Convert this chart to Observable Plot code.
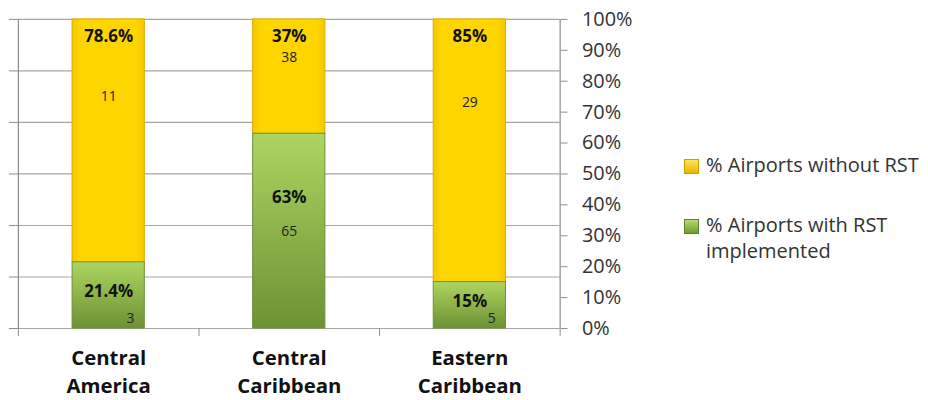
<!DOCTYPE html>
<html>
<head>
<meta charset="utf-8">
<script src="https://cdn.jsdelivr.net/npm/d3@7"></script>
<script src="https://cdn.jsdelivr.net/npm/@observablehq/plot@0.6"></script>
<style>
  html, body { margin: 0; padding: 0; background: #fff; overflow: hidden; }
  #wrap { display: flex; width: 928px; height: 400px; font-family: "Open Sans", sans-serif; }
  #chart svg { display: block; }
  #legend { padding-top: 152px; margin-left: 18px; color: #333; font-size: 20px; }
  .item { display: flex; align-items: flex-start; line-height: 26px; margin-bottom: 34px; }
  .sw { width: 13px; height: 13px; margin-top: 7px; margin-right: 7px; flex: none; }
</style>
</head>
<body>
<div id="wrap"><div id="chart"></div><div id="legend"></div></div>
<script>
const categories = ["Central\nAmerica", "Central\nCaribbean", "Eastern\nCaribbean"];
const seriesNames = ["% Airports without RST", "% Airports with RST implemented"];
const withRST = [21.4, 63, 15];
const withoutRST = [78.6, 37, 85];
const withCount = [3, 65, 5];
const withoutCount = [11, 38, 29];
const yTicks = [0, 10, 20, 30, 40, 50, 60, 70, 80, 90, 100];
const gridTicks = d3.range(0, 7).map(k => k * 100 / 6);

const green = categories.map((c, i) => ({i, value: withRST[i], count: withCount[i], y1: 0, y2: withRST[i]}));
const yellow = categories.map((c, i) => ({i, value: withoutRST[i], count: withoutCount[i], y1: withRST[i], y2: 100}));
const mid = d => (d.y1 + d.y2) / 2;
const cx = d => d.i + 0.5;
const pct = d => d.value + "%";
const axisColor = "#8c8c8c";

const chart = Plot.plot({
  width: 670, height: 400,
  marginLeft: 18, marginRight: 107, marginTop: 19, marginBottom: 70,
  x: {domain: [0, 3], axis: null},
  y: {domain: [0, 100], axis: null},
  style: {fontFamily: "'Open Sans', sans-serif", background: "#fff", color: "#222"},
  marks: [
    Plot.ruleY(gridTicks, {stroke: "#a6a6a6", strokeWidth: 1.2}),
    Plot.axisY({anchor: "left", ticks: gridTicks, tickSize: 9, tickFormat: () => "", stroke: axisColor}),
    Plot.axisY({anchor: "right", ticks: yTicks, tickSize: 7, tickPadding: 15, tickFormat: d => d + "%", stroke: axisColor, fontSize: 20, fill: "#333"}),
    Plot.ruleX([0, 3], {stroke: axisColor, strokeWidth: 1.2}),
    Plot.axisX({ticks: [0, 1, 2, 3], tickSize: 8, tickFormat: () => "", stroke: axisColor}),
    Plot.rectY(yellow, {x1: d => d.i + 0.3, x2: d => d.i + 0.7, y1: "y1", y2: "y2", fill: "url(#gYellow)", stroke: "#d9ad00", strokeWidth: 1}),
    Plot.rectY(green, {x1: d => d.i + 0.3, x2: d => d.i + 0.7, y1: "y1", y2: "y2", fill: "url(#gGreen)", stroke: "#6f8f3c", strokeWidth: 1}),
    // yellow labels
    Plot.text(yellow, {x: cx, y: "y2", dy: 17, text: pct, fontWeight: "bold", fontSize: 17, fill: "#111"}),
    Plot.text(yellow, {x: cx, y: d => d.y2 - 0.3 * d.value, dy: 4, text: "count", fontSize: 14, fill: "#222"}),
    // green labels
    Plot.text(green.filter(d => d.value >= 30), {x: cx, y: mid, dy: -34, text: pct, fontWeight: "bold", fontSize: 17, fill: "#111"}),
    Plot.text(green.filter(d => d.value >= 30), {x: cx, y: mid, text: "count", fontSize: 14, fill: "#222"}),
    Plot.text(green.filter(d => d.value < 30), {x: cx, y: mid, dy: -4, text: pct, fontWeight: "bold", fontSize: 17, fill: "#111"}),
    Plot.text(green.filter(d => d.value < 30), {x: cx, y: "y1", dy: -10, dx: 22, text: "count", fontSize: 14, fill: "#222"}),
    // category labels
    Plot.text(categories, {x: (d, i) => i + 0.5, frameAnchor: "bottom", lineAnchor: "top", dy: 17, lineHeight: 1.36, text: d => d, fontWeight: "bold", fontSize: 20.5, fill: "#111"})
  ]
});

const svg = d3.select(chart);
const defs = svg.insert("defs", ":first-child");
const gg = defs.append("linearGradient").attr("id", "gGreen").attr("x1", 0).attr("y1", 0).attr("x2", 0).attr("y2", 1);
gg.append("stop").attr("offset", "0%").attr("stop-color", "#acd560");
gg.append("stop").attr("offset", "100%").attr("stop-color", "#6c9234");
const gy = defs.append("linearGradient").attr("id", "gYellow").attr("x1", 0).attr("y1", 0).attr("x2", 1).attr("y2", 0);
gy.append("stop").attr("offset", "0%").attr("stop-color", "#f5c800");
gy.append("stop").attr("offset", "12%").attr("stop-color", "#ffd500");
gy.append("stop").attr("offset", "88%").attr("stop-color", "#ffd500");
gy.append("stop").attr("offset", "100%").attr("stop-color", "#f5c800");

document.getElementById("chart").append(chart);

const legend = d3.select("#legend");
seriesNames.forEach((name, k) => {
  const item = legend.append("div").attr("class", "item");
  item.append("div").attr("class", "sw")
    .style("background", k === 0 ? "linear-gradient(#ffe35a, #e6b800)" : "linear-gradient(#b5dc6c, #6f9a36)")
    .style("border", "1px solid " + (k === 0 ? "#c9a000" : "#5f8230"));
  item.append("div").style("width", "222px").text(name);
});
</script>
</body>
</html>
